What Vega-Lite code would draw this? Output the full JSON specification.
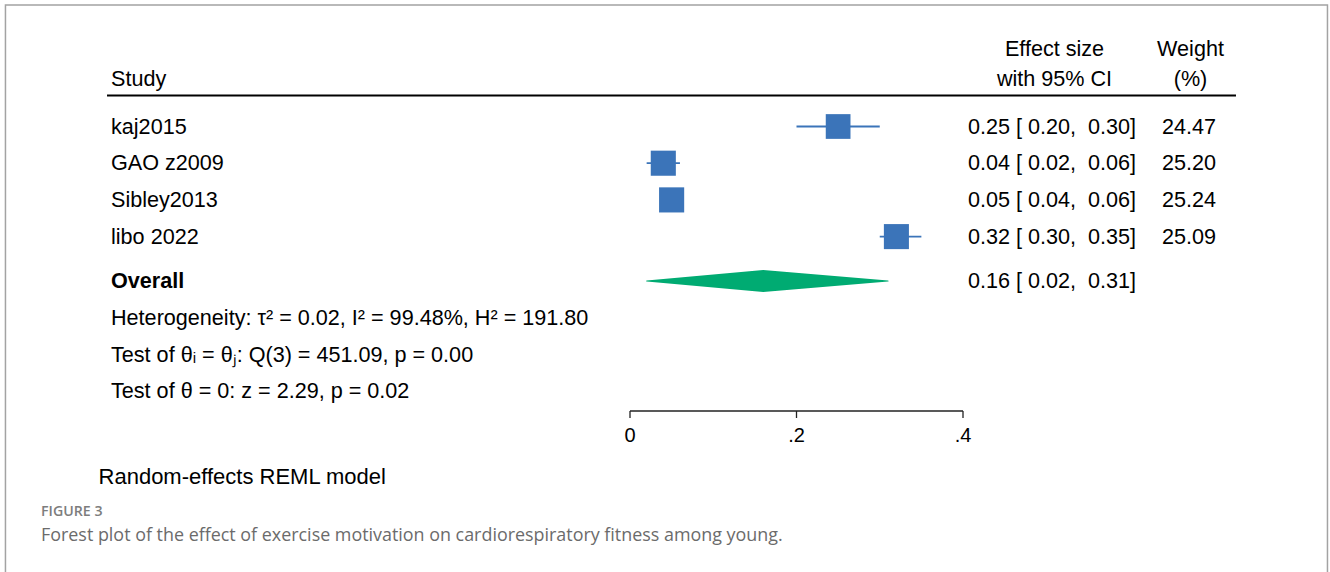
{
  "$schema": "https://vega.github.io/schema/vega-lite/v6.json",
  "width": 333,
  "height": 411,
  "autosize": {"type": "none"},
  "padding": {"left": 630, "top": 0, "right": 367, "bottom": 161},
  "background": "white",
  "config": {
    "font": "Liberation Sans",
    "view": {"stroke": null},
    "text": {"fontSize": 21.6, "color": "black"}
  },
  "datasets": {
    "studies": [
      {"study": "kaj2015", "row": 1, "es": 0.25, "lo": 0.20, "hi": 0.30, "weight": 24.47, "ci": "0.25 [ 0.20,\u00a0 0.30]"},
      {"study": "GAO z2009", "row": 2, "es": 0.04, "lo": 0.02, "hi": 0.06, "weight": 25.20, "ci": "0.04 [ 0.02,\u00a0 0.06]"},
      {"study": "Sibley2013", "row": 3, "es": 0.05, "lo": 0.04, "hi": 0.06, "weight": 25.24, "ci": "0.05 [ 0.04,\u00a0 0.06]"},
      {"study": "libo 2022", "row": 4, "es": 0.32, "lo": 0.30, "hi": 0.35, "weight": 25.09, "ci": "0.32 [ 0.30,\u00a0 0.35]"}
    ],
    "overall": [
      {"label": "Overall", "ci": "0.16 [ 0.02,\u00a0 0.31]"}
    ],
    "diamond": [
      {"value": 0.02, "thickness": 0},
      {"value": 0.16, "thickness": 1},
      {"value": 0.31, "thickness": 0}
    ],
    "ticks": [
      {"value": 0, "label": "0"},
      {"value": 0.2, "label": ".2"},
      {"value": 0.4, "label": ".4"}
    ]
  },
  "resolve": {"scale": {"size": "independent"}},
  "layer": [
    {
      "data": {"values": [{}]},
      "mark": {"type": "rect", "filled": false, "fillOpacity": 0, "stroke": "#a3a3a3", "strokeWidth": 1.5},
      "encoding": {
        "x": {"datum": -0.7502, "scale": {"domain": [0, 0.4], "nice": false, "zero": false}, "axis": null},
        "x2": {"datum": 0.8378},
        "y": {"datum": -2.311, "scale": {"domain": [-2.447, 8.752], "reverse": true, "nice": false, "zero": false}, "axis": null},
        "y2": {"datum": 14}
      }
    },
    {
      "data": {"values": [{"h": "Study"}]},
      "mark": {"type": "text", "align": "left", "baseline": "alphabetic", "dy": -4.3},
      "encoding": {
        "x": {"datum": -0.6234, "scale": {"domain": [0, 0.4], "nice": false, "zero": false}, "axis": null},
        "y": {"datum": 0, "scale": {"domain": [-2.447, 8.752], "reverse": true, "nice": false, "zero": false}, "axis": null},
        "text": {"field": "h"}
      }
    },
    {
      "data": {"values": [{"h": "Effect size\nwith 95% CI"}]},
      "mark": {"type": "text", "align": "center", "baseline": "alphabetic", "dy": -34.1, "lineBreak": "\n", "lineHeight": 29.8},
      "encoding": {
        "x": {"datum": 0.5099, "scale": {"domain": [0, 0.4], "nice": false, "zero": false}, "axis": null},
        "y": {"datum": 0, "scale": {"domain": [-2.447, 8.752], "reverse": true, "nice": false, "zero": false}, "axis": null},
        "text": {"field": "h"}
      }
    },
    {
      "data": {"values": [{"h": "Weight\n(%)"}]},
      "mark": {"type": "text", "align": "center", "baseline": "alphabetic", "dy": -34.1, "lineBreak": "\n", "lineHeight": 29.8},
      "encoding": {
        "x": {"datum": 0.6733, "scale": {"domain": [0, 0.4], "nice": false, "zero": false}, "axis": null},
        "y": {"datum": 0, "scale": {"domain": [-2.447, 8.752], "reverse": true, "nice": false, "zero": false}, "axis": null},
        "text": {"field": "h"}
      }
    },
    {
      "data": {"values": [{}]},
      "mark": {"type": "rule", "color": "black", "strokeWidth": 2},
      "encoding": {
        "x": {"datum": -0.6282, "scale": {"domain": [0, 0.4], "nice": false, "zero": false}, "axis": null},
        "x2": {"datum": 0.7279},
        "y": {"datum": 0.155, "scale": {"domain": [-2.447, 8.752], "reverse": true, "nice": false, "zero": false}, "axis": null}
      }
    },
    {
      "data": {"name": "studies"},
      "mark": {"type": "text", "align": "left", "baseline": "middle", "dy": 1},
      "encoding": {
        "x": {"datum": -0.6234, "scale": {"domain": [0, 0.4], "nice": false, "zero": false}, "axis": null},
        "y": {"field": "row", "type": "quantitative", "scale": {"domain": [-2.447, 8.752], "reverse": true, "nice": false, "zero": false}, "axis": null},
        "text": {"field": "study"}
      }
    },
    {
      "data": {"name": "studies"},
      "mark": {"type": "rule", "color": "#3b74b9", "strokeWidth": 1.8},
      "encoding": {
        "x": {"field": "lo", "type": "quantitative", "scale": {"domain": [0, 0.4], "nice": false, "zero": false}, "axis": null},
        "x2": {"field": "hi"},
        "y": {"field": "row", "type": "quantitative", "scale": {"domain": [-2.447, 8.752], "reverse": true, "nice": false, "zero": false}, "axis": null}
      }
    },
    {
      "data": {"name": "studies"},
      "mark": {"type": "point", "shape": "square", "filled": true, "opacity": 1, "color": "#3b74b9", "strokeWidth": 0},
      "encoding": {
        "x": {"field": "es", "type": "quantitative", "scale": {"domain": [0, 0.4], "nice": false, "zero": false}, "axis": null},
        "y": {"field": "row", "type": "quantitative", "scale": {"domain": [-2.447, 8.752], "reverse": true, "nice": false, "zero": false}, "axis": null},
        "size": {"field": "weight", "type": "quantitative", "scale": {"domain": [0, 100], "range": [0, 2500]}, "legend": null}
      }
    },
    {
      "data": {"name": "studies"},
      "mark": {"type": "text", "align": "left", "baseline": "middle", "dy": 1},
      "encoding": {
        "x": {"datum": 0.4060, "scale": {"domain": [0, 0.4], "nice": false, "zero": false}, "axis": null},
        "y": {"field": "row", "type": "quantitative", "scale": {"domain": [-2.447, 8.752], "reverse": true, "nice": false, "zero": false}, "axis": null},
        "text": {"field": "ci"}
      }
    },
    {
      "data": {"name": "studies"},
      "mark": {"type": "text", "align": "right", "baseline": "middle", "dy": 1},
      "encoding": {
        "x": {"datum": 0.7039, "scale": {"domain": [0, 0.4], "nice": false, "zero": false}, "axis": null},
        "y": {"field": "row", "type": "quantitative", "scale": {"domain": [-2.447, 8.752], "reverse": true, "nice": false, "zero": false}, "axis": null},
        "text": {"field": "weight", "type": "quantitative", "format": ".2f"}
      }
    },
    {
      "data": {"name": "overall"},
      "mark": {"type": "text", "align": "left", "baseline": "middle", "dy": 1, "fontWeight": "bold"},
      "encoding": {
        "x": {"datum": -0.6234, "scale": {"domain": [0, 0.4], "nice": false, "zero": false}, "axis": null},
        "y": {"datum": 5.21, "scale": {"domain": [-2.447, 8.752], "reverse": true, "nice": false, "zero": false}, "axis": null},
        "text": {"field": "label"}
      }
    },
    {
      "data": {"name": "overall"},
      "mark": {"type": "text", "align": "left", "baseline": "middle", "dy": 1},
      "encoding": {
        "x": {"datum": 0.4060, "scale": {"domain": [0, 0.4], "nice": false, "zero": false}, "axis": null},
        "y": {"datum": 5.21, "scale": {"domain": [-2.447, 8.752], "reverse": true, "nice": false, "zero": false}, "axis": null},
        "text": {"field": "ci"}
      }
    },
    {
      "data": {"name": "diamond"},
      "mark": {"type": "trail", "color": "#00ab72", "opacity": 1},
      "encoding": {
        "x": {"field": "value", "type": "quantitative", "scale": {"domain": [0, 0.4], "nice": false, "zero": false}, "axis": null},
        "y": {"datum": 5.21, "scale": {"domain": [-2.447, 8.752], "reverse": true, "nice": false, "zero": false}, "axis": null},
        "size": {"field": "thickness", "type": "quantitative", "scale": {"domain": [0, 1], "range": [0, 22]}, "legend": null}
      }
    },
    {
      "data": {"values": [
        {"note": "Heterogeneity: τ² = 0.02, I² = 99.48%, H² = 191.80", "line": 6.22},
        {"note": "Test of θᵢ = θⱼ: Q(3) = 451.09, p = 0.00", "line": 7.22},
        {"note": "Test of θ = 0: z = 2.29, p = 0.02", "line": 8.21}
      ]},
      "mark": {"type": "text", "align": "left", "baseline": "middle", "dy": 1},
      "encoding": {
        "x": {"datum": -0.6234, "scale": {"domain": [0, 0.4], "nice": false, "zero": false}, "axis": null},
        "y": {"field": "line", "type": "quantitative", "scale": {"domain": [-2.447, 8.752], "reverse": true, "nice": false, "zero": false}, "axis": null},
        "text": {"field": "note"}
      }
    },
    {
      "data": {"values": [{}]},
      "mark": {"type": "rule", "color": "#222", "strokeWidth": 1.3},
      "encoding": {
        "x": {"datum": 0, "scale": {"domain": [0, 0.4], "nice": false, "zero": false}, "axis": null},
        "x2": {"datum": 0.4},
        "y": {"datum": 8.752, "scale": {"domain": [-2.447, 8.752], "reverse": true, "nice": false, "zero": false}, "axis": null}
      }
    },
    {
      "data": {"name": "ticks"},
      "mark": {"type": "rule", "color": "#222", "strokeWidth": 1.3},
      "encoding": {
        "x": {"field": "value", "type": "quantitative", "scale": {"domain": [0, 0.4], "nice": false, "zero": false}, "axis": null},
        "y": {"datum": 8.752, "scale": {"domain": [-2.447, 8.752], "reverse": true, "nice": false, "zero": false}, "axis": null},
        "y2": {"datum": 8.943}
      }
    },
    {
      "data": {"name": "ticks"},
      "mark": {"type": "text", "align": "center", "baseline": "middle", "dy": 1, "fontSize": 20},
      "encoding": {
        "x": {"field": "value", "type": "quantitative", "scale": {"domain": [0, 0.4], "nice": false, "zero": false}, "axis": null},
        "y": {"datum": 9.398, "scale": {"domain": [-2.447, 8.752], "reverse": true, "nice": false, "zero": false}, "axis": null},
        "text": {"field": "label"}
      }
    },
    {
      "data": {"values": [{"note": "Random-effects REML model"}]},
      "mark": {"type": "text", "align": "left", "baseline": "middle", "dy": 1, "fontSize": 22},
      "encoding": {
        "x": {"datum": -0.6384, "scale": {"domain": [0, 0.4], "nice": false, "zero": false}, "axis": null},
        "y": {"datum": 10.52, "scale": {"domain": [-2.447, 8.752], "reverse": true, "nice": false, "zero": false}, "axis": null},
        "text": {"field": "note"}
      }
    },
    {
      "data": {"values": [{"note": "FIGURE 3"}]},
      "mark": {"type": "text", "align": "left", "baseline": "middle", "dy": 1, "font": "Open Sans", "fontSize": 14.2, "fontWeight": 600, "color": "#7d7d7d"},
      "encoding": {
        "x": {"datum": -0.7075, "scale": {"domain": [0, 0.4], "nice": false, "zero": false}, "axis": null},
        "y": {"datum": 11.48, "scale": {"domain": [-2.447, 8.752], "reverse": true, "nice": false, "zero": false}, "axis": null},
        "text": {"field": "note"}
      }
    },
    {
      "data": {"values": [{"note": "Forest plot of the effect of exercise motivation on cardiorespiratory fitness among young."}]},
      "mark": {"type": "text", "align": "left", "baseline": "middle", "dy": 1.5, "font": "Open Sans", "fontSize": 17.9, "color": "#6b6b6b"},
      "encoding": {
        "x": {"datum": -0.7075, "scale": {"domain": [0, 0.4], "nice": false, "zero": false}, "axis": null},
        "y": {"datum": 12.13, "scale": {"domain": [-2.447, 8.752], "reverse": true, "nice": false, "zero": false}, "axis": null},
        "text": {"field": "note"}
      }
    }
  ]
}
